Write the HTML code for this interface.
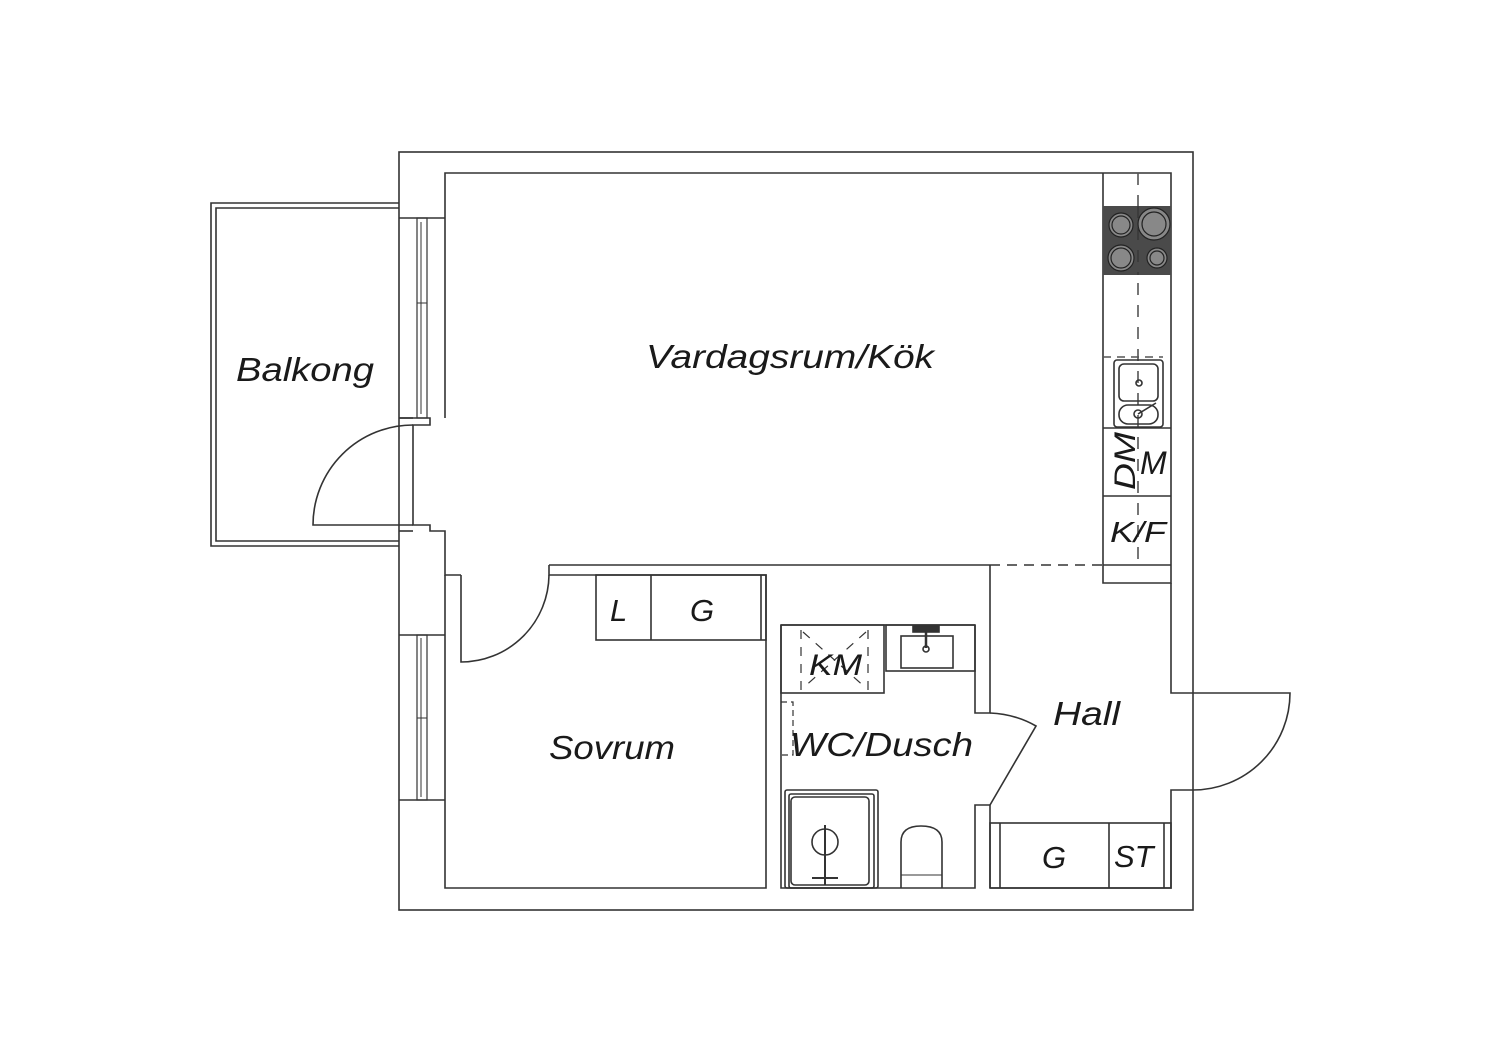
<!DOCTYPE html>
<html><head><meta charset="utf-8"><style>
html,body{margin:0;padding:0;background:#fff;}
svg{display:block;}
text{font-family:"Liberation Sans",sans-serif;font-style:italic;fill:#1a1a1a;}
</style></head><body>
<svg width="1500" height="1060" viewBox="0 0 1500 1060" xmlns="http://www.w3.org/2000/svg">
<g fill="none" stroke="#333" stroke-width="1.6">
<rect x="399" y="152" width="794" height="758"/>
<path d="M399 203 H211 V546 H399"/>
<path d="M399 208 H216 V541 H399"/>
<path d="M445 418 V173 H1103"/>
<path d="M1103 173 H1171 V583 H1103 V173"/>
<path d="M549 565 H990"/>
<path d="M990 565 H1103" stroke-dasharray="10 7"/>
<path d="M399 218 H445 M399 418 H430 V425 H413 V525 H430 V531 H445 V575 H461"/>
<path d="M413 418 H399"/>
<path d="M399 531 H413"/>
<rect x="417" y="218" width="10" height="200" stroke-width="1.2"/>
<path d="M421 222 V414 M417 303 H427" stroke-width="1"/>
<path d="M399 635 H445 M399 800 H445"/>
<rect x="417" y="635" width="10" height="165" stroke-width="1.2"/>
<path d="M421 638 V797 M417 718 H427" stroke-width="1"/>
<path d="M413 525 H313 A100 100 0 0 1 413 425"/>
<path d="M445 575 V888 H766 V575 H549 V565"/>
<path d="M461 575 V662 A88 88 0 0 0 549 575"/>
<rect x="596" y="575" width="170" height="65"/>
<path d="M651 575 V640 M761 575 V640"/>
<path d="M781 625 V888 H975 V805 H990"/>
<path d="M975 625 V713 H990 V565"/>
<path d="M990 805 V888 M975 625 H781"/>
<path d="M990 713 Q1015 714 1036 726 L990 805"/>
<rect x="781" y="625" width="103" height="68"/>
<path d="M801 630 V690 M868 630 V690 M803 632 L866 688 M866 632 L803 688" stroke-dasharray="9 8" stroke-width="1.2"/>
<rect x="886" y="625" width="89" height="46"/>
<rect x="901" y="636" width="52" height="32"/>
<path d="M926 630 V648" stroke-width="2.5"/>
<circle cx="926" cy="649" r="3"/>
<rect x="913" y="626" width="26" height="6" fill="#333"/>
<path d="M781 702 H793 V755 H781" stroke-dasharray="6 4" stroke-width="1.2"/>
<rect x="785" y="790" width="93" height="98" rx="2"/>
<rect x="789" y="794" width="85" height="94" rx="2"/>
<rect x="791" y="797" width="78" height="88" rx="4"/>
<circle cx="825" cy="842" r="13"/>
<path d="M825 825 V885 M812 878 H838" stroke-width="2"/>
<path d="M901 888 V842 Q901 826 921 826 Q942 826 942 842 V888"/>
<path d="M901 875 H942" stroke-width="1"/>
<path d="M1171 583 V693 H1290 A97 97 0 0 1 1193 790 H1171 V888 H990"/>
<rect x="990" y="823" width="181" height="65"/>
<path d="M1000 823 V888 M1109 823 V888 M1164 823 V888"/>
<path d="M1138 173 V565" stroke-dasharray="12 10" stroke="#555"/>
<path d="M1103 357 H1163" stroke-dasharray="8 6" stroke="#555"/>
<path d="M1103 428 H1171 M1103 496 H1171 M1103 565 H1171"/>
<rect x="1114" y="360" width="49" height="67" rx="3"/>
<rect x="1119" y="364" width="39" height="37" rx="5"/>
<rect x="1119" y="405" width="39" height="19" rx="9"/>
<circle cx="1139" cy="383" r="3"/>
<circle cx="1138" cy="414" r="4"/>
<path d="M1138 414 L1156 403"/>
</g>
<rect x="1103" y="206" width="68" height="69" fill="#4a4a4a"/>
<g fill="#888" stroke="#222" stroke-width="1.2">
<circle cx="1121" cy="225" r="12"/><circle cx="1121" cy="225" r="9"/>
<circle cx="1154" cy="224" r="16"/><circle cx="1154" cy="224" r="12"/>
<circle cx="1121" cy="258" r="13"/><circle cx="1121" cy="258" r="10"/>
<circle cx="1157" cy="258" r="10"/><circle cx="1157" cy="258" r="7"/>
</g>
<path d="M1138 206 V275" stroke="#333" stroke-dasharray="12 10" stroke-width="1.2"/>
<text x="236" y="381" font-size="33" textLength="138" lengthAdjust="spacingAndGlyphs">Balkong</text>
<text x="646" y="368" font-size="33" textLength="288" lengthAdjust="spacingAndGlyphs">Vardagsrum/Kök</text>
<text x="549" y="759" font-size="33" textLength="126" lengthAdjust="spacingAndGlyphs">Sovrum</text>
<text x="790" y="756" font-size="33" textLength="183" lengthAdjust="spacingAndGlyphs">WC/Dusch</text>
<text x="1053" y="725" font-size="33" textLength="67" lengthAdjust="spacingAndGlyphs">Hall</text>
<text x="809" y="675" font-size="30" textLength="53" lengthAdjust="spacingAndGlyphs">KM</text>
<text x="610" y="621" font-size="31">L</text>
<text x="690" y="621" font-size="31">G</text>
<text x="1042" y="868" font-size="31">G</text>
<text x="1114" y="867" font-size="31">ST</text>
<text x="1110" y="542" font-size="29" textLength="56" lengthAdjust="spacingAndGlyphs">K/F</text>
<text x="1140" y="474" font-size="32">M</text>
<text x="1135" y="490" font-size="30" transform="rotate(-90 1135 490)" textLength="58" lengthAdjust="spacingAndGlyphs">DM</text>
</svg>
</body></html>
